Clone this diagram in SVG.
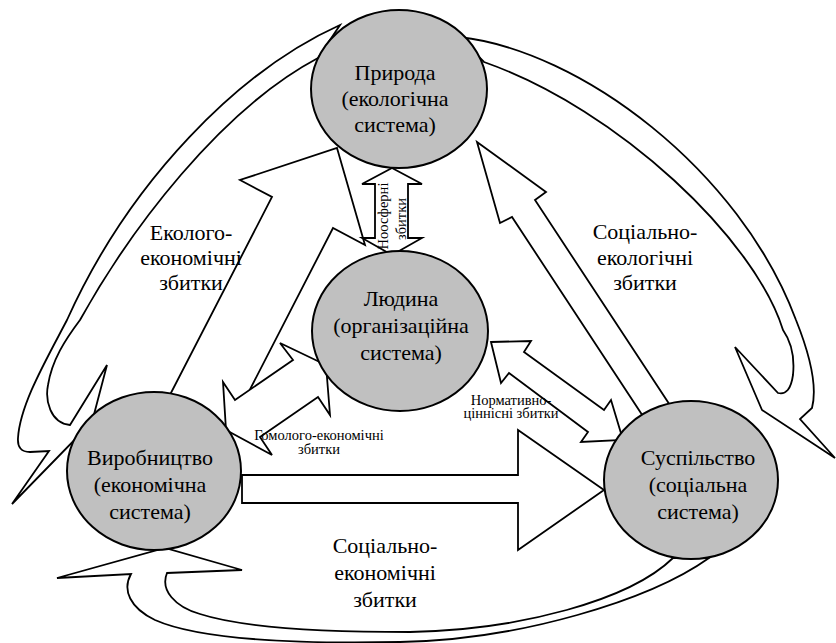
<svg xmlns="http://www.w3.org/2000/svg" width="836" height="643" viewBox="0 0 836 643">
<style>
.arr{fill:#fff;stroke:#000;stroke-width:1.8;stroke-linejoin:miter}
.node{fill:#c0c0c0;stroke:#000;stroke-width:2}
.big{font-size:22px;text-anchor:middle}
.sm{font-size:14.5px;text-anchor:middle}
</style>
<rect width="836" height="643" fill="#fff"/>
<g id="connectors">
  <path class="arr" d="M340,25 C240,70 130,180 67,320 C45,362 20,405 18,438 Q17,452 30,452 L49,451 L12,504 L92,422 L107,365 L70,425 C50,423 45,400 48,385 C52,360 65,340 80,320 C130,230 220,110 318,58 Z"/>
  <path class="arr" d="M459,37 C580,50 740,170 796,320 C808,350 818,385 812,408 L800,419 L835,458 L762,410 L735,347 L778,393 Q790,396 793,375 C795,355 790,340 783,330 C755,240 620,110 484,62 Z"/>
  <path class="arr" d="M709,558 C650,600 520,640 400,642 C300,644 200,640 155,620 C130,608 122,590 131,574 L57,578 L165,548 L242,570 L167,573 C160,590 175,607 200,614 C240,627 320,632 410,632 C520,630 630,600 673,558 Z"/>
  <polygon class="arr" points="337,148 365,245 333,228 224,440 157,420 272,197 240,180"/>
  <polygon class="arr" points="477,142 546,192 535,200 685,428 660,442 512,217 500,223"/>
  <polygon class="arr" points="242,475 518,475 518,430 604,490 518,550 518,503 242,503"/>
  <polygon class="arr" points="392,168 422,184 408,184 408,238 422,238 392,255 362,238 375,238 375,184 362,184"/>
  <polygon class="arr" points="226,430 223,382 235,400 293,360 280,343 326,365 330,415 318,397 260,437 272,455"/>
  <polygon class="arr" points="491,342 531,341 524,352 604,410 611,400 623,440 581,442 588,432 509,373 501,383"/>
</g>
<g font-family="'Liberation Serif', 'Times New Roman', serif">
<g id="pryroda">
  <ellipse class="node" cx="399" cy="89" rx="88" ry="79"/>
  <text class="big" x="395" y="80">Природа</text>
  <text class="big" x="395" y="106">(екологічна</text>
  <text class="big" x="395" y="132">система)</text>
</g>
<g id="lyudyna">
  <ellipse class="node" cx="400" cy="331" rx="88" ry="80"/>
  <text class="big" x="401" y="306">Людина</text>
  <text class="big" x="401" y="333">(організаційна</text>
  <text class="big" x="401" y="360">система)</text>
</g>
<g id="vyrobnytstvo">
  <ellipse class="node" cx="154" cy="471" rx="87" ry="79"/>
  <text class="big" x="150" y="465">Виробництво</text>
  <text class="big" x="150" y="492">(економічна</text>
  <text class="big" x="150" y="519">система)</text>
</g>
<g id="suspilstvo">
  <ellipse class="node" cx="691" cy="480" rx="87" ry="79"/>
  <text class="big" x="698" y="465">Суспільство</text>
  <text class="big" x="698" y="492">(соціальна</text>
  <text class="big" x="698" y="519">система)</text>
</g>
<g id="labels">
  <text class="big" x="191" y="240">Еколого-</text>
  <text class="big" x="191" y="265">економічні</text>
  <text class="big" x="191" y="290">збитки</text>
  <text class="big" x="645" y="239">Соціально-</text>
  <text class="big" x="645" y="265">екологічні</text>
  <text class="big" x="645" y="290">збитки</text>
  <text class="big" x="385" y="553">Соціально-</text>
  <text class="big" x="385" y="580">економічні</text>
  <text class="big" x="385" y="607">збитки</text>
  <text class="sm" x="319" y="440">Гомолого-економічні</text>
  <text class="sm" x="319" y="454">збитки</text>
  <text class="sm" x="511" y="405">Нормативно-</text>
  <text class="sm" x="511" y="418">ціннісні збитки</text>
  <text class="sm" transform="translate(388,216) rotate(-90)">Ноосферні</text>
  <text class="sm" transform="translate(406,219) rotate(-90)">збитки</text>
</g>
</g>
</svg>
